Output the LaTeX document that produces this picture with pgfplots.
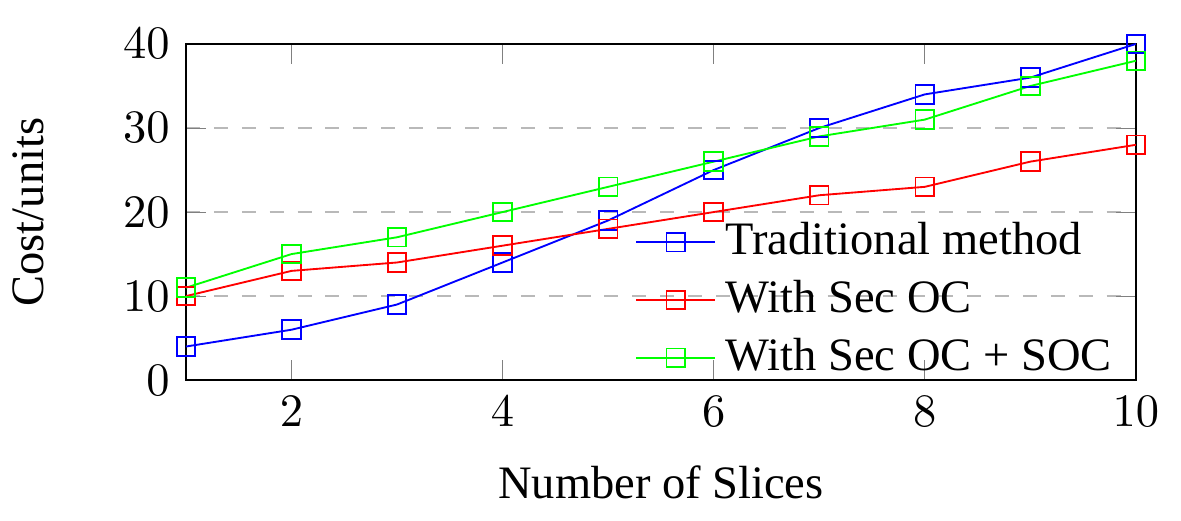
\documentclass[border=0pt]{standalone}
\usepackage{fontspec}
\setmainfont{Liberation Serif}
\usepackage{pgfplots}
\pgfplotsset{compat=1.18}
\begin{document}
\begin{tikzpicture}
\useasboundingbox (-40pt,-30.1pt) rectangle (214pt,81.76pt);
\begin{axis}[
  at={(0,0)}, anchor=south west,
  scale only axis,
  width=204.3pt, height=72.3pt,
  xmin=1, xmax=10, ymin=0, ymax=40,
  xtick={2,4,6,8,10}, ytick={0,10,20,30,40},
  ymajorgrids, major grid style={dashed, gray!55},
  major tick style={gray},
  xlabel={Number of Slices}, ylabel={Cost/units},
  xlabel style={yshift=-1.5pt},
  every axis y label/.style={at={(axis description cs:-0.166,0.5)}, rotate=90, anchor=center},
  legend style={at={(1.0,-0.05)}, anchor=south east, draw=none, fill=none},
  legend cell align=left,
]
\addplot[blue, mark=square] coordinates {(1,4)(2,6)(3,9)(4,14)(5,19)(6,25)(7,30)(8,34)(9,36)(10,40)};
\addplot[red, mark=square] coordinates {(1,10)(2,13)(3,14)(4,16)(5,18)(6,20)(7,22)(8,23)(9,26)(10,28)};
\addplot[green, mark=square] coordinates {(1,11)(2,15)(3,17)(4,20)(5,23)(6,26)(7,29)(8,31)(9,35)(10,38)};
\legend{Traditional method, With Sec OC, With Sec OC + SOC}
\end{axis}
\end{tikzpicture}
\end{document}
